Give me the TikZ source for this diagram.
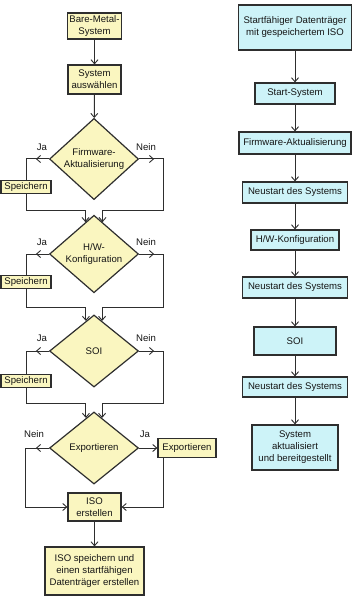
\documentclass[tikz,border=0pt]{standalone}
\usepackage{fontspec}
\setmainfont{Liberation Sans}
\usetikzlibrary{arrows.meta,shapes.geometric}
\definecolor{yel}{HTML}{FAF6C0}
\definecolor{cya}{HTML}{CDF3F8}
\definecolor{ln}{HTML}{2E2E2E}
\definecolor{tx}{HTML}{151515}
\begin{document}
\begin{tikzpicture}[x=1pt,y=-1pt,
  font=\fontsize{9.6}{12}\selectfont, text=tx,
  line width=1pt,
  >={Straight Barb[length=4pt,width=7pt,line width=0.9pt]},
  conn/.style={draw=ln},
  ybox/.style={draw=ln, fill=yel, align=center, inner sep=0pt, line width=1.2pt},
  cbox/.style={draw=ln, fill=cya, align=center, inner sep=0pt, line width=1.2pt},
  ydia/.style={diamond, draw=ln, fill=yel, align=center, inner sep=0pt, line width=1.2pt,
    minimum width=89pt, minimum height=72pt},
  lbl/.style={inner sep=0pt}]
\useasboundingbox (0,0) rectangle (352,604);

% ---------------- left column ----------------
\node[ybox, minimum width=54pt, minimum height=26pt] (bm) at (94.5,26) {Bare-Metal-\\System};
\node[ybox, minimum width=53pt, minimum height=29pt] (sel) at (94.5,79.5) {System\\auswählen};
\node[ydia] (d1) at (94,159) {Firmware-\\Aktualisierung};
\node[ydia] (d2) at (94,254) {H/W-\\Konfiguration};
\node[ydia] (d3) at (94,351) {SOI};
\node[ydia] (d4) at (94,448) {Exportieren};

\node[ybox, minimum width=50pt, minimum height=13pt] (s1) at (26,187) {Speichern};
\node[ybox, minimum width=50pt, minimum height=13pt] (s2) at (26,282) {Speichern};
\node[ybox, minimum width=50pt, minimum height=13pt] (s3) at (26,381) {Speichern};
\node[ybox, minimum width=58pt, minimum height=19pt] (exp) at (187,448) {Exportieren};

\node[ybox, minimum width=53pt, minimum height=28pt] (iso) at (94.5,507) {ISO\\erstellen};
\node[ybox, minimum width=99pt, minimum height=48pt] (fin) at (94.5,571) {ISO speichern und\\einen startfähigen\\Datenträger erstellen};

\node[lbl] (ja1) at (42,147) {Ja};
\node[lbl] (ne1) at (146,147) {Nein};
\node[lbl] (ja2) at (42,242) {Ja};
\node[lbl] (ne2) at (146,242) {Nein};
\node[lbl] (ja3) at (42,338) {Ja};
\node[lbl] (ne3) at (146,338) {Nein};
\node[lbl] (ne4) at (34,434) {Nein};
\node[lbl] (ja4) at (145,434) {Ja};

\coordinate (j1) at (163,210);
\coordinate (j2) at (163,307);
\coordinate (j3) at (163,403);
\coordinate (jl4) at (25,507);
\coordinate (jr4) at (163,507);

\draw[conn,->] (bm) -- (sel);
\draw[conn,->] (sel) -- (d1);

% decision 1
\draw[conn,->] (d1.west) -- ++(-13,0);
\draw[conn,->] (d1.east) -- ++(15,0);
\draw[conn] (d1.west) -| (s1.north);
\draw[conn,->] (s1.south) |- (d2.105 |- j1) -- (d2.105);
\draw[conn,->] (d1.east) -| (j1) -| (d2.75);

% decision 2
\draw[conn,->] (d2.west) -- ++(-13,0);
\draw[conn,->] (d2.east) -- ++(15,0);
\draw[conn] (d2.west) -| (s2.north);
\draw[conn,->] (s2.south) |- (d3.105 |- j2) -- (d3.105);
\draw[conn,->] (d2.east) -| (j2) -| (d3.75);

% decision 3
\draw[conn,->] (d3.west) -- ++(-13,0);
\draw[conn,->] (d3.east) -- ++(15,0);
\draw[conn] (d3.west) -| (s3.north);
\draw[conn,->] (s3.south) |- (d4.105 |- j3) -- (d4.105);
\draw[conn,->] (d3.east) -| (j3) -| (d4.75);

% decision 4
\draw[conn,->] (d4.west) -- ++(-13,0);
\draw[conn] (d4.west) -| (jl4);
\draw[conn,->] (jl4) -- (iso.west);
\draw[conn,->] (d4.east) -- (exp.west);
\draw[conn,->] (exp.south -| jr4) -- (jr4) -- (iso.east);
\draw[conn,->] (iso) -- (fin);

% ---------------- right column ----------------
\node[cbox, minimum width=113pt, minimum height=45pt] (r1) at (295,27.5) {Startfähiger Datenträger\\mit gespeichertem ISO};
\node[cbox, minimum width=80pt, minimum height=21pt] (r2) at (295,93.5) {Start-System};
\node[cbox, minimum width=112pt, minimum height=22pt] (r3) at (295,143) {Firmware-Aktualisierung};
\node[cbox, minimum width=105pt, minimum height=21pt] (r4) at (295,192.5) {Neustart des Systems};
\node[cbox, minimum width=88pt, minimum height=20pt] (r5) at (295,240) {H/W-Konfiguration};
\node[cbox, minimum width=105pt, minimum height=21pt] (r6) at (295,287.5) {Neustart des Systems};
\node[cbox, minimum width=82pt, minimum height=28pt] (r7) at (295,341) {SOI};
\node[cbox, minimum width=105pt, minimum height=20pt] (r8) at (295,387) {Neustart des Systems};
\node[cbox, minimum width=86pt, minimum height=45pt] (r9) at (295,447.5) {System\\aktualisiert\\und bereitgestellt};

\draw[conn,->] (r1) -- (r2);
\draw[conn,->] (r2) -- (r3);
\draw[conn,->] (r3) -- (r4);
\draw[conn,->] (r4) -- (r5);
\draw[conn,->] (r5) -- (r6);
\draw[conn,->] (r6) -- (r7);
\draw[conn,->] (r7) -- (r8);
\draw[conn,->] (r8) -- (r9);
\end{tikzpicture}
\end{document}
